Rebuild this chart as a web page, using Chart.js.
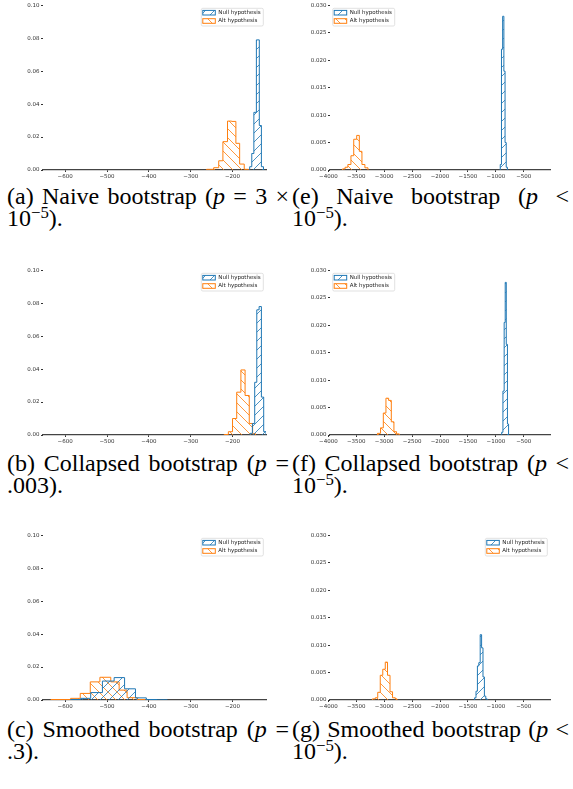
<!DOCTYPE html>
<html>
<head>
<meta charset="utf-8">
<script src="https://cdn.jsdelivr.net/npm/chart.js@4.4.1/dist/chart.umd.min.js"></script>
<style>
  body { margin: 0; background: #fff; width: 573px; height: 789px; position: relative; overflow: hidden; }
  canvas { position: absolute; }
  .cap { position: absolute; font-family: "Liberation Serif", "Times New Roman", serif; font-size: 24px; line-height: 22px; color: #000; }
  .cap .l1 { text-align: justify; text-align-last: justify; }
  .cap sup { font-size: 70%; line-height: 0; vertical-align: 0.5em; }
</style>
</head>
<body>
<canvas id="pa" width="290" height="182" style="left:0;top:0"></canvas>
<canvas id="pe" width="283" height="182" style="left:290px;top:0"></canvas>
<canvas id="pb" width="290" height="182" style="left:0;top:265px"></canvas>
<canvas id="pf" width="283" height="182" style="left:290px;top:265px"></canvas>
<canvas id="pc" width="290" height="182" style="left:0;top:530px"></canvas>
<canvas id="pg" width="283" height="182" style="left:290px;top:530px"></canvas>

<div class="cap" style="left:7px;top:185px;width:282px">
  <div class="l1">(a) Naive bootstrap (<i>p</i> = 3 ×</div>
  <div>10<sup>−5</sup>).</div>
</div>
<div class="cap" style="left:292px;top:185px;width:277px">
  <div class="l1">(e) Naive bootstrap (<i>p</i> &lt;</div>
  <div>10<sup>−5</sup>).</div>
</div>
<div class="cap" style="left:7px;top:452px;width:282px">
  <div class="l1">(b) Collapsed bootstrap (<i>p</i> =</div>
  <div>.003).</div>
</div>
<div class="cap" style="left:292px;top:452px;width:277px">
  <div class="l1">(f) Collapsed bootstrap (<i>p</i> &lt;</div>
  <div>10<sup>−5</sup>).</div>
</div>
<div class="cap" style="left:7px;top:718px;width:282px">
  <div class="l1">(c) Smoothed bootstrap (<i>p</i> =</div>
  <div>.3).</div>
</div>
<div class="cap" style="left:292px;top:718px;width:277px">
  <div class="l1">(g) Smoothed bootstrap (<i>p</i> &lt;</div>
  <div>10<sup>−5</sup>).</div>
</div>

<script>
// tick labels
const leftXTicks = [-600, -500, -400, -300, -200];
const rightXTicks = [-4000, -3500, -3000, -2500, -2000, -1500, -1000, -500];
const leftYTicks = [0, 0.02, 0.04, 0.06, 0.08, 0.10];
const rightYTicks = [0, 0.005, 0.010, 0.015, 0.020, 0.025, 0.030];
const seriesNames = ["Null hypothesis", "Alt hypothesis"];

// (a) naive bootstrap, small problem
const aNullEdges = [-159, -154, -149, -143, -136, -131, -126];
const aNullDens = [0.002, 0.010, 0.035, 0.079, 0.027, 0.002];
const aAltEdges = [-262, -245, -233, -223, -212, -202, -192, -183, -172, -162];
const aAltDens = [0.0004, 0.0014, 0.0056, 0.0172, 0.0297, 0.0295, 0.0162, 0.0036, 0.0004];

// (b) collapsed bootstrap, small problem
const bNullEdges = [-158, -152.5, -147, -142, -136.5, -131, -125.5, -120];
const bNullDens = [0.001, 0.007, 0.032, 0.076, 0.078, 0.023, 0.002];
const bAltEdges = [-220, -210, -200, -190, -180, -170, -160, -152, -145];
const bAltDens = [0.0003, 0.002, 0.010, 0.026, 0.0395, 0.024, 0.007, 0.0008];

// (c) smoothed bootstrap, small problem
const cNullEdges = [-587, -563, -539, -511, -483, -458, -432, -406, -380, -356];
const cNullDens = [0.0003, 0.001, 0.0045, 0.0115, 0.0136, 0.0068, 0.0013, 0.0003, 0.0001];
const cAltEdges = [-634, -587, -564, -540, -517, -491, -471, -452, -428, -404];
const cAltDens = [0.0003, 0.001, 0.004, 0.011, 0.0138, 0.011, 0.006, 0.0014, 0.0003];

// (e) naive bootstrap, large problem
const eNullEdges = [-921, -899, -878, -856, -835, -814, -793];
const eNullDens = [0.001, 0.022, 0.028, 0.018, 0.005, 0.0005];
const eAltEdges = [-3745, -3700, -3650, -3595, -3545, -3492, -3445, -3398, -3345, -3290];
const eAltDens = [0.0002, 0.0005, 0.001, 0.0026, 0.0056, 0.0063, 0.0034, 0.001, 0.0004];

// (f) collapsed bootstrap, large problem
const fNullEdges = [-895, -873, -851, -832, -813, -792, -772];
const fNullDens = [0.0005, 0.008, 0.0205, 0.0278, 0.0165, 0.002];
const fAltEdges = [-3120, -3065, -3015, -2968, -2920, -2872, -2825, -2778, -2730];
const fAltDens = [0.0003, 0.0013, 0.0040, 0.0067, 0.0063, 0.0024, 0.0006, 0.0002];

// (g) smoothed bootstrap, large problem
const gNullEdges = [-1380, -1355, -1330, -1305, -1280, -1255, -1230, -1205, -1180, -1155];
const gNullDens = [0.0004, 0.0016, 0.0062, 0.0068, 0.0119, 0.0095, 0.0042, 0.0007, 0.0002];
const gAltEdges = [-3210, -3160, -3115, -3070, -3025, -2980, -2940, -2895, -2850, -2800, -2770];
const gAltDens = [0.0002, 0.0004, 0.0014, 0.0045, 0.0056, 0.0069, 0.0045, 0.0015, 0.0004, 0.0002];

const BLUE = "#1f77b4";
const ORANGE = "#ff7f0e";
const TICK_FONT = { family: "DejaVu Sans", size: 5.5 };

function hatch(color, dir) {
  const s = 9;
  const c = document.createElement("canvas");
  c.width = c.height = s;
  const g = c.getContext("2d");
  g.strokeStyle = color;
  g.lineWidth = 0.8;
  g.beginPath();
  if (dir === "/") {
    g.moveTo(0, s); g.lineTo(s, 0);
    g.moveTo(-1, 1); g.lineTo(1, -1);
    g.moveTo(s - 1, s + 1); g.lineTo(s + 1, s - 1);
  } else {
    g.moveTo(0, 0); g.lineTo(s, s);
    g.moveTo(s - 1, -1); g.lineTo(s + 1, 1);
    g.moveTo(-1, s - 1); g.lineTo(1, s + 1);
  }
  g.stroke();
  return g.createPattern(c, "repeat");
}

// histogram outline as a stepped line: bin i holds dens[i] from edges[i] to edges[i+1]
function stepPoints(edges, dens) {
  const pts = [{ x: edges[0], y: 0 }];
  dens.forEach((d, i) => pts.push({ x: edges[i], y: d }));
  pts.push({ x: edges[edges.length - 1], y: 0 });
  return pts;
}

function histSet(label, edges, dens, color, dir) {
  return {
    label,
    data: stepPoints(edges, dens),
    stepped: true,
    borderColor: color,
    borderWidth: 1,
    backgroundColor: hatch(color, dir),
    fill: "origin",
    pointRadius: 0,
    tension: 0,
  };
}

const legendBox = {
  id: "legendBox",
  afterDraw(chart, args, opts) {
    const ctx = chart.ctx;
    const a = chart.chartArea;
    const w = 62, h = 17.7;
    const x = opts.side === "left" ? a.left + 2.7 : a.right - 2.7 - w;
    const y = a.top + 3;
    ctx.save();
    ctx.fillStyle = "rgba(255,255,255,0.85)";
    ctx.strokeStyle = "#d4d4d4";
    ctx.lineWidth = 0.7;
    ctx.beginPath();
    ctx.roundRect(x, y, w, h, 1.5);
    ctx.fill();
    ctx.stroke();
    ctx.font = '5.5px "DejaVu Sans"';
    ctx.textBaseline = "middle";
    chart.data.datasets.forEach((ds, i) => {
      const cy = y + 4.4 + i * 8.3;
      ctx.fillStyle = ds.backgroundColor;
      ctx.fillRect(x + 1.5, cy - 2.3, 12.5, 4.6);
      ctx.strokeStyle = ds.borderColor;
      ctx.lineWidth = 1;
      ctx.strokeRect(x + 1.5, cy - 2.3, 12.5, 4.6);
      ctx.fillStyle = "#222";
      ctx.fillText(ds.label, x + 17, cy);
    });
    ctx.restore();
  },
};

const minus = (v) => String(v).replace("-", "\u2212");

function makeChart(id, p) {
  return new Chart(document.getElementById(id), {
    type: "line",
    data: {
      datasets: [
        histSet(seriesNames[0], p.nullEdges, p.nullDens, BLUE, "/"),
        histSet(seriesNames[1], p.altEdges, p.altDens, ORANGE, "\\"),
      ],
    },
    plugins: [legendBox],
    options: {
      responsive: false,
      animation: false,
      layout: { padding: { top: 5.3, right: p.padRight, left: 0, bottom: 0 } },
      plugins: { legend: { display: false }, tooltip: { enabled: false }, legendBox: { side: p.legendSide } },
      scales: {
        x: {
          type: "linear",
          min: p.xMin,
          max: p.xMax,
          afterBuildTicks: (s) => { s.ticks = p.xTicks.map((v) => ({ value: v })); },
          afterFit: (s) => { s.height = 12; },
          ticks: { font: TICK_FONT, color: "#333", padding: 1, maxRotation: 0, autoSkip: false, callback: (v) => minus(v) },
          grid: { display: true, drawOnChartArea: false, tickLength: 2, tickColor: "#333" },
          border: { display: true, color: "#444", width: 1.3 },
        },
        y: {
          min: 0,
          max: p.yMax,
          afterBuildTicks: (s) => { s.ticks = p.yTicks.map((v) => ({ value: v })); },
          afterFit: (s) => { s.width = p.yWidth; },
          ticks: { font: TICK_FONT, color: "#333", padding: 1.5, callback: (v) => v.toFixed(p.yDec) },
          grid: { display: true, drawOnChartArea: false, tickLength: 2, tickColor: "#333" },
          border: { display: false },
        },
      },
    },
  });
}

const leftCfg = { xMin: -653, xMax: -120, xTicks: leftXTicks, yMax: 0.10, yTicks: leftYTicks, yDec: 2, yWidth: 43, padRight: 24, legendSide: "right" };
const rightCfg = { xMin: -3970, xMax: -30, xTicks: rightXTicks, yMax: 0.030, yTicks: rightYTicks, yDec: 3, yWidth: 40, padRight: 23, legendSide: "left" };

makeChart("pa", { ...leftCfg, nullEdges: aNullEdges, nullDens: aNullDens, altEdges: aAltEdges, altDens: aAltDens });
makeChart("pb", { ...leftCfg, nullEdges: bNullEdges, nullDens: bNullDens, altEdges: bAltEdges, altDens: bAltDens });
makeChart("pc", { ...leftCfg, nullEdges: cNullEdges, nullDens: cNullDens, altEdges: cAltEdges, altDens: cAltDens });
makeChart("pe", { ...rightCfg, nullEdges: eNullEdges, nullDens: eNullDens, altEdges: eAltEdges, altDens: eAltDens });
makeChart("pf", { ...rightCfg, nullEdges: fNullEdges, nullDens: fNullDens, altEdges: fAltEdges, altDens: fAltDens });
makeChart("pg", { ...rightCfg, legendSide: "right", nullEdges: gNullEdges, nullDens: gNullDens, altEdges: gAltEdges, altDens: gAltDens });
</script>
</body>
</html>
